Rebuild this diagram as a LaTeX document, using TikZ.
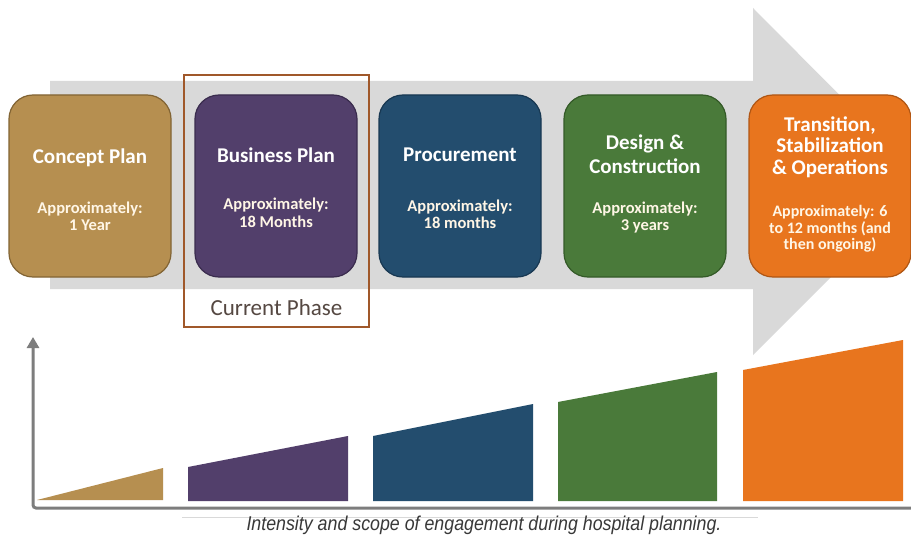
\documentclass[tikz,border=0pt]{standalone}
\usepackage{fontspec}
\usepackage{graphicx}
\setmainfont{Carlito}
\newfontfamily\capfont{Liberation Sans}
\usetikzlibrary{arrows.meta}
\definecolor{cTan}{RGB}{182,143,80}
\definecolor{cTanD}{RGB}{130,100,52}
\definecolor{cPur}{RGB}{82,63,107}
\definecolor{cPurD}{RGB}{58,44,78}
\definecolor{cBlu}{RGB}{35,77,110}
\definecolor{cBluD}{RGB}{24,56,82}
\definecolor{cGrn}{RGB}{74,122,58}
\definecolor{cGrnD}{RGB}{52,90,40}
\definecolor{cOrg}{RGB}{232,117,30}
\definecolor{cOrgD}{RGB}{176,86,20}
\definecolor{cBand}{RGB}{217,217,217}
\definecolor{cFrame}{RGB}{160,88,42}
\definecolor{cAxis}{RGB}{125,125,125}
\definecolor{cCur}{RGB}{85,72,66}
\definecolor{cSub}{RGB}{255,246,230}
\tikzset{
  phasebox/.style={draw, line width=1.2pt, rounded corners=24pt, minimum width=162pt, minimum height=182pt, inner sep=0pt},
  titletext/.style={anchor=north, align=center, text=white, inner sep=0pt, font=\bfseries\fontsize{21}{24}\selectfont},
  subtext/.style={anchor=north, align=center, text=cSub, inner sep=0pt, font=\bfseries\fontsize{16.5}{17.5}\selectfont},
  axisline/.style={draw=cAxis, line width=3pt, rounded corners=3pt}
}
\begin{document}
\begin{tikzpicture}[x=1pt,y=-1pt]
\useasboundingbox (0,0) rectangle (911,535);
\fill[white] (0,0) rectangle (911,535);
\begin{scope}
\clip (0,0) rectangle (911,535);
% big gray arrow
\fill[cBand] (50,81) -- (753,81) -- (753,8) -- (926,182) -- (753,355) -- (753,289) -- (50,289) -- cycle;
\end{scope}
% phase boxes
\node[phasebox, fill=cTan, draw=cTanD] (cp) at (90,186) {};
\node[phasebox, fill=cPur, draw=cPurD] (bp) at (276,186) {};
\node[phasebox, fill=cBlu, draw=cBluD] (pr) at (460,186) {};
\node[phasebox, fill=cGrn, draw=cGrnD] (dc) at (645,186) {};
\node[phasebox, fill=cOrg, draw=cOrgD] (tr) at (830,186) {};
% texts
\node[titletext] (cpT) at (90,148.5) {Concept Plan};
\node[subtext] (cpS) at (90,201.5) {Approximately:\\1 Year};
\node[titletext] (bpT) at (276,147.5) {Business Plan};
\node[subtext] (bpS) at (276,198) {Approximately:\\18 Months};
\node[titletext] (prT) at (460,147.5) {Procurement};
\node[subtext] (prS) at (460,199.5) {Approximately:\\18 months};
\node[titletext] (dcT) at (645,134.5) {Design \&\\Construction};
\node[subtext] (dcS) at (645,201.5) {Approximately:\\3 years};
\node[titletext, font=\bfseries\fontsize{21}{21.5}\selectfont] (trT) at (830,116.5) {Transition,\\Stabilization\\\& Operations};
\node[subtext, font=\bfseries\fontsize{16}{16.5}\selectfont] (trS) at (830,205.5) {Approximately: 6\\to 12 months (and\\then ongoing)};
% current phase frame
\draw[cFrame, line width=2.5pt] (184,75) rectangle (369,327);
\node[anchor=base, text=cCur, inner sep=0pt, font=\fontsize{23}{26}\selectfont] (cur) at (276.5,315) {Current Phase};
% axes
\coordinate (ytop) at (33,337);
\coordinate (org) at (33,508);
\coordinate (xend) at (912,508);
\draw[axisline, {Triangle[width=12pt,length=11pt]}-] (ytop) -- (org) -- (xend);
% bars
\fill[cTan] (37,500) -- (163,468) -- (163,500) -- cycle;
\fill[cPur] (188,467) -- (348,436) -- (348,501) -- (188,501) -- cycle;
\fill[cBlu] (373,436) -- (533,404) -- (533,501) -- (373,501) -- cycle;
\fill[cGrn] (558,402) -- (717,372) -- (717,501) -- (558,501) -- cycle;
\fill[cOrg] (743,370) -- (903,340) -- (903,501) -- (743,501) -- cycle;
% caption
\coordinate (capL) at (182,517);
\coordinate (capR) at (758,517);
\draw[cBand, line width=1pt] (capL) -- (capR);
\node[anchor=base, inner sep=0pt, text=black!78, font=\capfont\itshape\fontsize{20}{22}\selectfont] (cap) at (484,530) {\scalebox{0.89}[1]{Intensity and scope of engagement during hospital planning.}};
\end{tikzpicture}
\end{document}
